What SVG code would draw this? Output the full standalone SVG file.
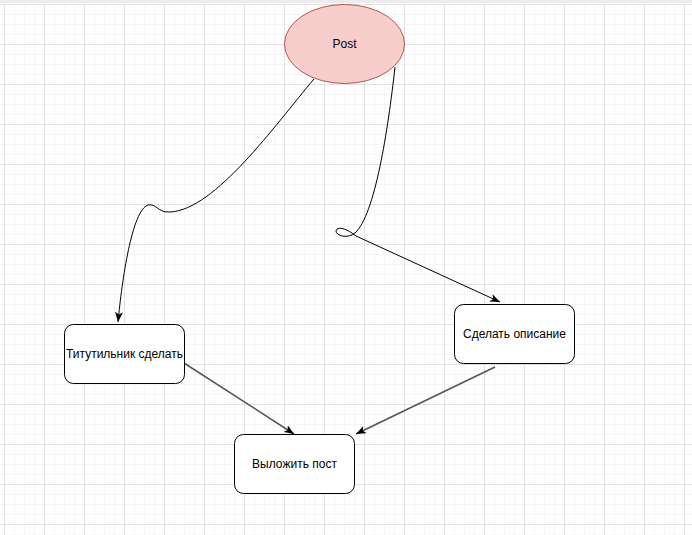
<svg xmlns="http://www.w3.org/2000/svg" width="692" height="535" viewBox="0 0 692 535">
<defs>
<pattern id="minor" x="4" y="4" width="10" height="10" patternUnits="userSpaceOnUse">
<path d="M0,0.5 H10 M0.5,0 V10" fill="none" stroke="#f6f6f6" stroke-width="1"/>
</pattern>
<pattern id="major" x="4" y="4" width="40" height="40" patternUnits="userSpaceOnUse">
<path d="M0,0.5 H40 M0.5,0 V40" fill="none" stroke="#e2e2e2" stroke-width="1"/>
</pattern>
<marker id="arr" viewBox="0 0 10 8" refX="10" refY="4" markerWidth="10" markerHeight="8" markerUnits="userSpaceOnUse" orient="auto">
<path d="M0,0 L10,4 L0,8 L2.5,4 Z" fill="#000"/>
</marker>
</defs>
<style>
.node{fill:#ffffff;stroke:#000000;stroke-width:1}
.lbl{font-family:"Liberation Sans",Arial,sans-serif;font-size:12px;fill:#000000;text-anchor:middle;dominant-baseline:central}
.edge{fill:none;stroke:#000000;stroke-width:1}
.edge2{fill:none;stroke:#555555;stroke-width:1.5}
</style>
<rect x="0" y="0" width="692" height="535" fill="#ffffff"/>
<rect x="0" y="4" width="692" height="531" fill="url(#minor)"/>
<rect x="0" y="4" width="692" height="531" fill="url(#major)"/>
<rect x="0" y="0" width="692" height="3" fill="#ececec"/>
<g id="connectors">
<path class="edge" d="M314,79 C 275,125 215,210 170,212 C 158,213 156,203 148,205 C 132,210 122,280 118,322" marker-end="url(#arr)"/>
<path class="edge" d="M395,67 C 388,130 375,215 355,233 C 348,239 336,236 336,231 C 337,226 346,228 356,236 L 500,302" marker-end="url(#arr)"/>
<path class="edge2" d="M184,363 L294,434" marker-end="url(#arr)"/>
<path class="edge2" d="M495,367 L356,434" marker-end="url(#arr)"/>
</g>
<g id="post">
<ellipse cx="344.5" cy="44" rx="60" ry="39.5" fill="#f8cecc" stroke="#b85450" stroke-width="1"/>
<text class="lbl" x="344.5" y="44">Post</text>
</g>
<g id="title">
<rect class="node" x="64.5" y="324.5" width="120" height="59" rx="9"/>
<text class="lbl" x="124.5" y="354">Титутильник сделать</text>
</g>
<g id="desc">
<rect class="node" x="454.5" y="304.5" width="120" height="59" rx="9"/>
<text class="lbl" x="514.5" y="334">Сделать описание</text>
</g>
<g id="publish">
<rect class="node" x="234.5" y="434.5" width="120" height="59" rx="9"/>
<text class="lbl" x="294.5" y="464">Выложить пост</text>
</g>
</svg>
